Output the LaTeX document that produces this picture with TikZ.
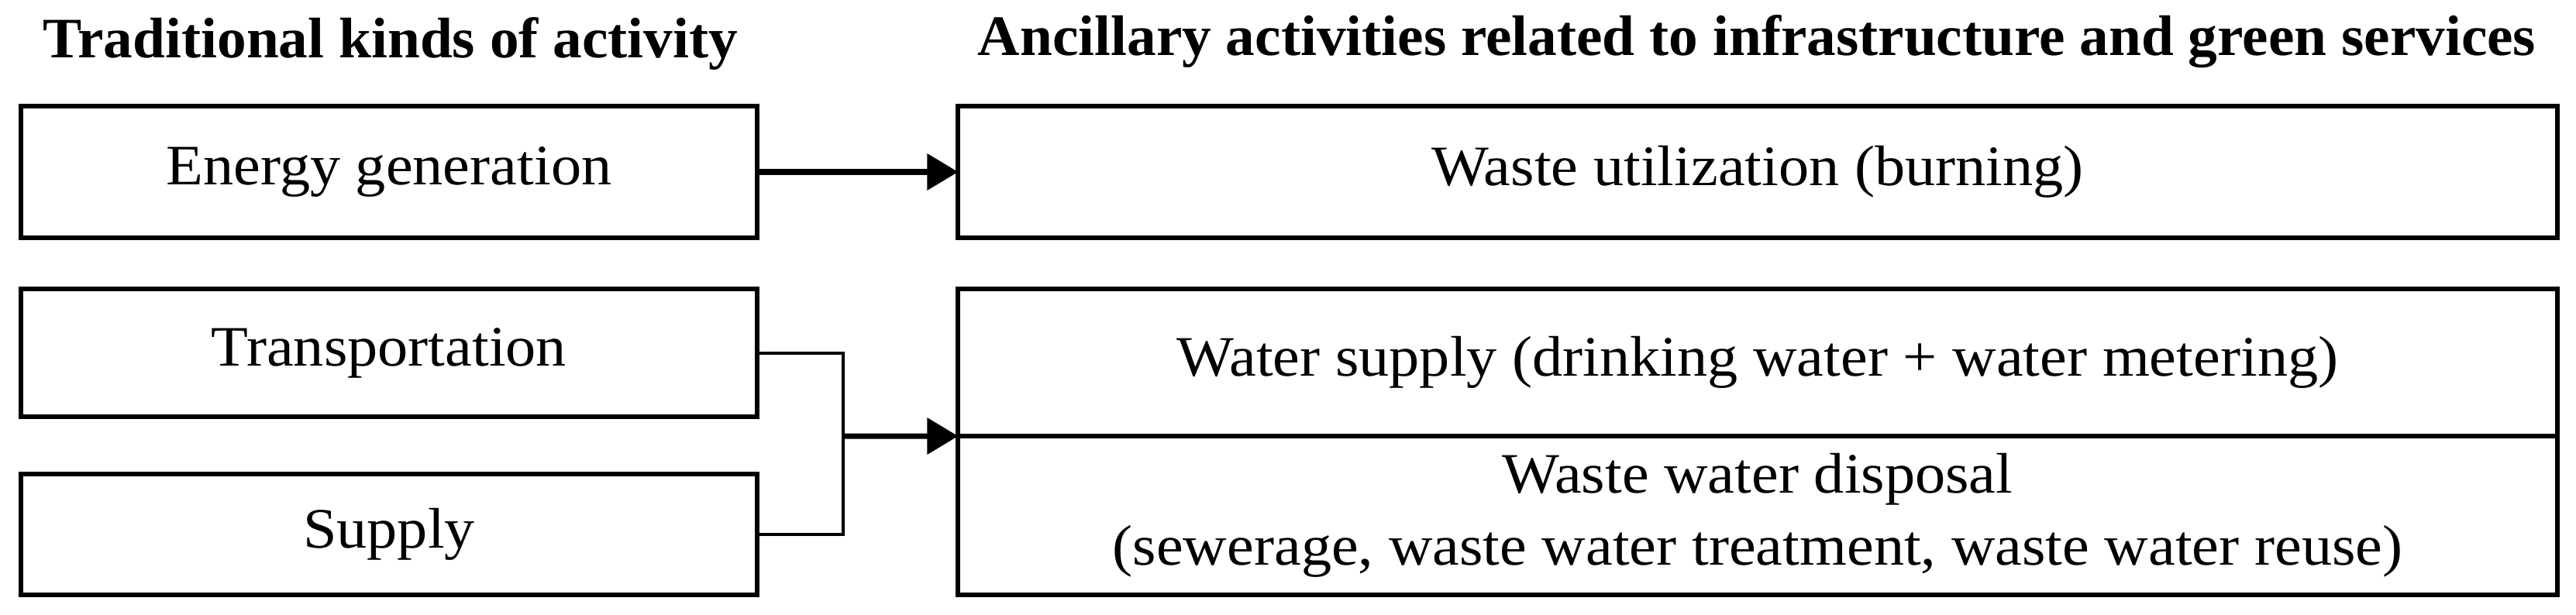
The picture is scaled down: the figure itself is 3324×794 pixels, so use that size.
\documentclass[tikz,border=0pt]{standalone}
\usepackage{fontspec}
\setmainfont[FakeStretch=1.06, BoldFeatures={FakeStretch=1.02}]{Liberation Serif}
\usetikzlibrary{arrows.meta}
\begin{document}
\begin{tikzpicture}[x=0.01cm, y=-0.01cm,
  every node/.style={font=\fontsize{21}{26.4}\selectfont},
  leftbox/.style={draw, line width=0.06cm, minimum width=9.5cm, inner sep=0pt, outer sep=0pt, align=center},
  rightbox/.style={draw, line width=0.06cm, minimum width=20.62cm, inner sep=0pt, outer sep=0pt, align=center},
  title/.style={anchor=base, font=\fontsize{21}{24}\selectfont\bfseries},
  conn/.style={line width=0.04cm},
  arr/.style={line width=0.07cm, -{Triangle[length=0.4cm, width=0.46cm]}}
]
\useasboundingbox (0,0) rectangle (3324,794);
% titles
\node[title] (t1) at (504,75) {Traditional kinds of activity};
\node[title] (t2) at (2267,72) {Ancillary activities related to infrastructure and green services};
% left boxes
\node[leftbox, minimum height=1.70cm] (energy) at (502,222) {Energy generation};
\node[leftbox, minimum height=1.65cm] (transp) at (502,455.5) {Transportation};
\node[leftbox, minimum height=1.56cm] (supply) at (502,690) {Supply};
% right boxes
\node[rightbox, minimum height=1.70cm] (waste) at (2268,222) {Waste utilization (burning)};
\node[rightbox, minimum height=1.90cm] (water) at (2268,468) {Water supply (drinking water + water metering)};
\node[rightbox, minimum height=2.05cm] (wwd) at (2268,665.5) {Waste water disposal\\(sewerage, waste water treatment, waste water reuse)};
% connectors
\coordinate (j) at (1088,563);
\draw[arr] (energy.east) -- (waste.west);
\draw[conn] (transp.east) -- (transp.east -| j) -- (supply.east -| j) -- (supply.east);
\draw[arr] (j) -- (water.south west);
\end{tikzpicture}
\end{document}
